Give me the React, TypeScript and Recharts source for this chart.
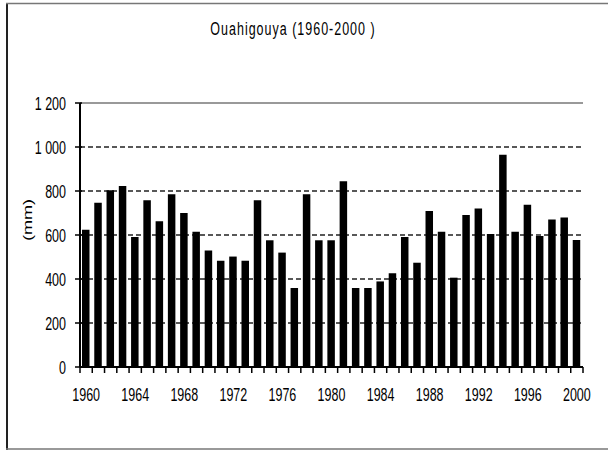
import React from 'react';
import { BarChart, Bar, XAxis, YAxis, CartesianGrid, ReferenceLine } from 'recharts';

const years: number[] = [
  1960, 1961, 1962, 1963, 1964, 1965, 1966, 1967, 1968, 1969,
  1970, 1971, 1972, 1973, 1974, 1975, 1976, 1977, 1978, 1979,
  1980, 1981, 1982, 1983, 1984, 1985, 1986, 1987, 1988, 1989,
  1990, 1991, 1992, 1993, 1994, 1995, 1996, 1997, 1998, 1999,
  2000,
];
const rainfall: number[] = [
  624, 747, 803, 823, 591, 758, 662, 785, 700, 615,
  529, 483, 502, 483, 758, 576, 520, 359, 785, 576,
  576, 844, 359, 359, 389, 426, 591, 474, 709, 615,
  406, 691, 720, 605, 965, 615, 738, 595, 671, 680,
  577,
];
const yTicks: number[] = [0, 200, 400, 600, 800, 1000, 1200];
const yTickLabels: string[] = ['0', '200', '400', '600', '800', '1 000', '1 200'];
const title = 'Ouahigouya (1960-2000 )';
const yLabel = '(mm)';

const data = years.map((y, i) => ({ year: y, mm: rainfall[i] }));

const W = 608;
const H = 451;
const MARGIN = { top: 103, right: 25, bottom: 54, left: 0 };
const YAXIS_W = 80;
const STEP = (W - MARGIN.left - MARGIN.right - YAXIS_W) / years.length;
const FONT = '"Liberation Sans", Arial, sans-serif';

const YTick = (props: any) => {
  const { x, y, payload } = props;
  return (
    <g>
      <line x1={x - 5} x2={x + 2} y1={y} y2={y} stroke="#000" strokeWidth={1.5} />
      <text
        transform={`translate(${x - 14},${y + 6.5}) scale(1,1.45)`}
        textAnchor="end"
        fontSize={12.5}
        fontFamily={FONT}
        fill="#000"
      >
        {yTickLabels[yTicks.indexOf(payload.value)] ?? String(payload.value)}
      </text>
    </g>
  );
};

const XTick = (props: any) => {
  const { x, y, payload, index } = props;
  const half = STEP / 2;
  return (
    <g>
      <line x1={x - half} x2={x - half} y1={y} y2={y + 6} stroke="#000" strokeWidth={1.5} />
      {index === years.length - 1 && (
        <line x1={x + half} x2={x + half} y1={y} y2={y + 6} stroke="#000" strokeWidth={1.5} />
      )}
      {index % 4 === 0 && (
        <text
          transform={`translate(${x},${y + 34}) scale(1,1.45)`}
          textAnchor="middle"
          fontSize={12.5}
          fontFamily={FONT}
          fill="#000"
        >
          {payload.value}
        </text>
      )}
    </g>
  );
};

export default function App() {
  return (
    <div style={{ position: 'absolute', left: 0, top: 0, width: W, height: H, overflow: 'hidden', background: '#fff' }}>
      <BarChart width={W} height={H} data={data} margin={MARGIN}>
        <CartesianGrid vertical={false} stroke="#222" strokeDasharray="5 3" strokeWidth={1.5} />
        <ReferenceLine y={1200} stroke="#999" strokeWidth={2} />
        <XAxis
          dataKey="year"
          interval={0}
          height={30}
          tickSize={0}
          tickMargin={0}
          tickLine={false}
          axisLine={{ stroke: '#000', strokeWidth: 2 }}
          tick={<XTick />}
        />
        <YAxis
          domain={[0, 1200]}
          ticks={yTicks}
          width={YAXIS_W}
          interval={0}
          tickSize={0}
          tickMargin={0}
          tickLine={false}
          axisLine={{ stroke: '#000', strokeWidth: 2 }}
          tick={<YTick />}
        />
        <YAxis
          yAxisId="r"
          orientation="right"
          domain={[0, 1200]}
          width={0}
          tick={false}
          tickLine={false}
          axisLine={{ stroke: '#999', strokeWidth: 2 }}
        />
        <Bar dataKey="mm" fill="#000" barSize={7.5} isAnimationActive={false} />
      </BarChart>
      <svg
        width={W}
        height={H}
        style={{ position: 'absolute', left: 0, top: 0, pointerEvents: 'none' }}
      >
        <line x1={7} x2={7} y1={3} y2={450} stroke="#222" strokeWidth={2} />
        <line x1={6} x2={W} y1={3.5} y2={3.5} stroke="#777" strokeWidth={1.5} />
        <line x1={6} x2={W} y1={449} y2={449} stroke="#777" strokeWidth={1.5} />
        <text
          transform="translate(293,35) scale(1,1.45)"
          textAnchor="middle"
          fontSize={12.5}
          letterSpacing={1}
          fontFamily={FONT}
          fill="#000"
        >
          {title}
        </text>
        <text
          transform="translate(32,220) rotate(-90) scale(1.45,1)"
          textAnchor="middle"
          fontSize={12.5}
          fontFamily={FONT}
          fill="#000"
        >
          {yLabel}
        </text>
      </svg>
    </div>
  );
}
